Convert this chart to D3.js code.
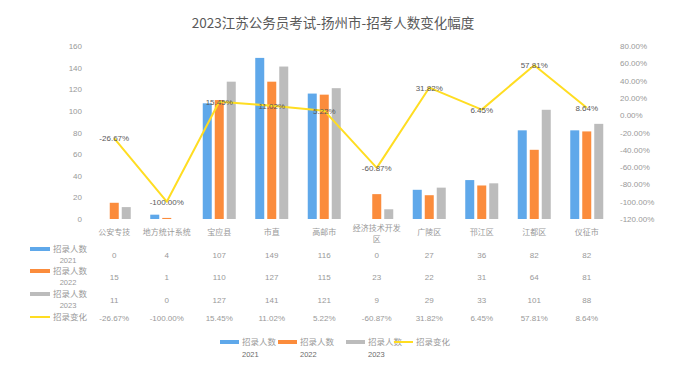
<!DOCTYPE html>
<html>
<head>
<meta charset="utf-8">
<script src="https://cdn.jsdelivr.net/npm/d3@7"></script>
<style>
  body { margin: 0; background: #fff; }
  svg { display: block; font-family: "Noto Sans CJK SC", "Noto Sans", sans-serif; }
</style>
</head>
<body>
<svg></svg>
<script>
const categories = ['公安专技', '地方统计系统', '宝应县', '市直', '高邮市', '经济技术开发区', '广陵区', '邗江区', '江都区', '仪征市']
const hires2021 = [0, 4, 107, 149, 116, 0, 27, 36, 82, 82]
const hires2022 = [15, 1, 110, 127, 115, 23, 22, 31, 64, 81]
const hires2023 = [11, 0, 127, 141, 121, 9, 29, 33, 101, 88]
const change = [-26.67, -100.00, 15.45, 11.02, 5.22, -60.87, 31.82, 6.45, 57.81, 8.64]
const leftTicks = [0, 20, 40, 60, 80, 100, 120, 140, 160]
const rightTicks = [80, 60, 40, 20, 0, -20, -40, -60, -80, -100, -120]

const W = 678, H = 377
const colors = ['#5fa8ea', '#fb8c3c', '#bcbcbc']
const lineColor = '#ffdd22'
const textGray = '#999'
const series = [
    { name: '招录人数', year: '2021', values: hires2021 },
    { name: '招录人数', year: '2022', values: hires2022 },
    { name: '招录人数', year: '2023', values: hires2023 }
]

const svg = d3.select('svg')
    .attr('width', W)
    .attr('height', H)

const x = d3.scaleBand().domain(categories).range([88, 613])
const xs = d3.scaleBand().domain([0, 1, 2])
    .range([x.bandwidth() / 2 - 18, x.bandwidth() / 2 + 18])
    .paddingInner(0.25).paddingOuter(0.125)
const y = d3.scaleLinear().domain([0, 160]).range([219, 46])
const y2 = d3.scaleLinear().domain([-120, 80]).range([219, 46])

// title
svg.append('text')
    .attr('x', 333).attr('y', 28)
    .attr('text-anchor', 'middle')
    .attr('font-size', 13.5)
    .attr('fill', '#595959')
    .text('2023江苏公务员考试-扬州市-招考人数变化幅度')

// axes
const leftAxis = svg.append('g')
    .attr('transform', 'translate(86,0)')
    .call(d3.axisLeft(y).tickValues(leftTicks).tickSize(0).tickPadding(4))
leftAxis.select('.domain').remove()
leftAxis.selectAll('text').attr('font-size', 8).attr('fill', textGray).attr('font-family', 'Liberation Sans, sans-serif')

const rightAxis = svg.append('g')
    .attr('transform', 'translate(616,0)')
    .call(d3.axisRight(y2).tickValues(rightTicks).tickSize(0).tickPadding(4)
        .tickFormat(d => d.toFixed(2) + '%'))
rightAxis.select('.domain').remove()
rightAxis.selectAll('text').attr('font-size', 8).attr('fill', textGray).attr('font-family', 'Liberation Sans, sans-serif')

// bars
series.forEach((s, i) => {
    svg.append('g')
        .selectAll('rect')
        .data(s.values)
        .enter()
        .append('rect')
        .attr('x', (d, j) => x(categories[j]) + xs(i))
        .attr('width', xs.bandwidth())
        .attr('y', d => y(d))
        .attr('height', d => y(0) - y(d))
        .attr('fill', colors[i])
})

// change line
const cx = c => x(c) + x.bandwidth() / 2
const line = d3.line()
    .x((d, j) => cx(categories[j]))
    .y(d => y2(d))
svg.append('path')
    .datum(change)
    .attr('d', line)
    .attr('fill', 'none')
    .attr('stroke', lineColor)
    .attr('stroke-width', 2)
    .attr('stroke-linejoin', 'round')

svg.append('g')
    .selectAll('text')
    .data(change)
    .enter()
    .append('text')
    .attr('x', (d, j) => cx(categories[j]))
    .attr('y', d => y2(d) + 3)
    .attr('text-anchor', 'middle')
    .attr('font-size', 8)
    .attr('fill', '#595959')
    .attr('font-family', 'Liberation Sans, sans-serif')
    .text(d => d.toFixed(2) + '%')

// data table: column headers
const header = svg.append('g')
categories.forEach(c => {
    const t = header.append('text')
        .attr('x', cx(c))
        .attr('text-anchor', 'middle')
        .attr('font-size', 8)
        .attr('fill', textGray)
    if (c.length > 6) {
        t.append('tspan').attr('x', cx(c)).attr('y', 231).text(c.slice(0, 6))
        t.append('tspan').attr('x', cx(c)).attr('y', 242).text(c.slice(6))
    } else {
        t.attr('y', 235).text(c)
    }
})

// table rows
const rowY = [255, 277, 300, 318]
const rows = series.map(s => s.values.map(String))
rows.push(change.map(d => d.toFixed(2) + '%'))
rows.forEach((r, i) => {
    svg.append('g')
        .selectAll('text')
        .data(r)
        .enter()
        .append('text')
        .attr('x', (d, j) => cx(categories[j]))
        .attr('y', rowY[i] + 3)
        .attr('text-anchor', 'middle')
        .attr('font-size', 8)
        .attr('fill', textGray)
        .attr('font-family', 'Liberation Sans, sans-serif')
        .text(d => d)
})

// table legend keys
series.forEach((s, i) => {
    const g = svg.append('g').attr('transform', `translate(30,${rowY[i] - 6})`)
    g.append('rect').attr('width', 20).attr('height', 4).attr('y', -2).attr('fill', colors[i])
    g.append('text').attr('x', 23).attr('y', 3).attr('font-size', 8.5).attr('fill', textGray).text(s.name)
    g.append('text').attr('x', 38).attr('y', 14).attr('text-anchor', 'middle').attr('font-size', 7.5)
        .attr('fill', textGray).attr('font-family', 'Liberation Sans, sans-serif').text(s.year)
})
{
    const g = svg.append('g').attr('transform', `translate(30,${rowY[3] - 1})`)
    g.append('line').attr('x1', 0).attr('x2', 20).attr('stroke', lineColor).attr('stroke-width', 2)
    g.append('text').attr('x', 23).attr('y', 3).attr('font-size', 8.5).attr('fill', textGray).text('招录变化')
}

// bottom legend
const legendX = [220, 278, 346, 394]
series.forEach((s, i) => {
    const g = svg.append('g').attr('transform', `translate(${legendX[i]},342)`)
    g.append('rect').attr('width', 19).attr('height', 4).attr('y', -2).attr('fill', colors[i])
    g.append('text').attr('x', 22).attr('y', 3).attr('font-size', 8.5).attr('fill', textGray).text(s.name)
    g.append('text').attr('x', 22).attr('y', 15).attr('font-size', 7.5)
        .attr('fill', '#6a6a6a').attr('font-family', 'Liberation Sans, sans-serif').text(s.year)
})
{
    const g = svg.append('g').attr('transform', `translate(${legendX[3]},342)`)
    g.append('line').attr('x1', 0).attr('x2', 19).attr('stroke', lineColor).attr('stroke-width', 2)
    g.append('text').attr('x', 22).attr('y', 3).attr('font-size', 8.5).attr('fill', textGray).text('招录变化')
}
</script>
</body>
</html>
